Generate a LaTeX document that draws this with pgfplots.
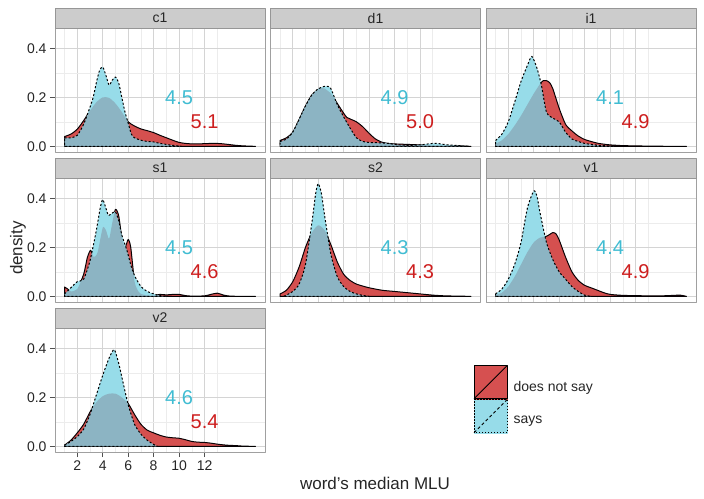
\documentclass[border=0pt]{standalone}
\usepackage{fontspec}
\setmainfont{Liberation Sans}
\usepackage{pgfplots}
\usepackage{pgfplotstable}
\pgfplotsset{compat=1.18}
\definecolor{redpre}{RGB}{243,95,89}
\definecolor{redshow}{RGB}{214,80,80}
\definecolor{tintc}{RGB}{96,20,43}
\definecolor{cyanlight}{RGB}{151,220,233}
\definecolor{cyantext}{RGB}{64,188,210}
\definecolor{redtext}{RGB}{205,30,30}
\definecolor{stripfill}{RGB}{204,204,204}
\definecolor{stripborder}{RGB}{150,150,150}
\definecolor{panelborder}{RGB}{160,160,160}
\definecolor{gridmajor}{RGB}{212,212,212}
\definecolor{gridminor}{RGB}{236,236,236}
\definecolor{tickc}{RGB}{80,80,80}
\tikzset{
  cyantxt/.style={text=cyantext, font=\fontsize{20}{20}\selectfont},
  redtxt/.style={text=redtext, font=\fontsize{20}{20}\selectfont},
}
% ---- data: does not say (R) and says (C), per panel
\pgfplotstableread[row sep=\\]{x y\\ 1 0.04\\ 1.5 0.05\\ 2 0.07\\ 2.5 0.105\\ 3 0.145\\ 3.5 0.18\\ 4 0.2\\ 4.5 0.198\\ 5 0.175\\ 5.5 0.14\\ 6 0.1\\ 6.5 0.083\\ 7 0.071\\ 7.5 0.064\\ 8 0.056\\ 8.5 0.045\\ 9 0.035\\ 9.5 0.025\\ 10 0.016\\ 10.5 0.012\\ 11 0.01\\ 11.5 0.01\\ 12 0.011\\ 12.5 0.012\\ 13 0.012\\ 13.5 0.01\\ 14 0.007\\ 14.5 0.004\\ 15 0.002\\ 15.5 0.001\\ 16 0\\}\cOneR
\pgfplotstableread[row sep=\\]{x y\\ 1 0.035\\ 1.5 0.035\\ 2 0.045\\ 2.5 0.09\\ 3 0.16\\ 3.25 0.2\\ 3.5 0.26\\ 3.75 0.31\\ 4 0.324\\ 4.25 0.29\\ 4.5 0.25\\ 4.75 0.27\\ 5 0.283\\ 5.25 0.26\\ 5.5 0.2\\ 5.75 0.14\\ 6 0.095\\ 6.25 0.05\\ 6.5 0.035\\ 7 0.025\\ 7.5 0.02\\ 8 0.018\\ 8.5 0.012\\ 9 0.008\\ 9.5 0.004\\ 10 0.001\\ 10.2 0\\}\cOneC
\pgfplotstableread[row sep=\\]{x y\\ 1 0.024\\ 1.5 0.035\\ 2 0.058\\ 2.5 0.11\\ 3 0.165\\ 3.5 0.21\\ 4 0.232\\ 4.25 0.238\\ 4.5 0.236\\ 5 0.215\\ 5.5 0.175\\ 6 0.135\\ 6.25 0.118\\ 6.5 0.112\\ 7 0.1\\ 7.5 0.08\\ 8 0.053\\ 8.5 0.03\\ 9 0.017\\ 9.5 0.012\\ 10 0.01\\ 11 0.008\\ 12 0.006\\ 13 0.004\\ 14 0.003\\ 15 0.002\\ 16 0\\}\dOneR
\pgfplotstableread[row sep=\\]{x y\\ 1 0.02\\ 1.5 0.03\\ 2 0.058\\ 2.5 0.11\\ 3 0.165\\ 3.5 0.21\\ 4 0.235\\ 4.5 0.245\\ 4.75 0.245\\ 5 0.235\\ 5.5 0.17\\ 6 0.12\\ 6.5 0.075\\ 7 0.035\\ 7.5 0.02\\ 8 0.016\\ 8.5 0.015\\ 9 0.014\\ 9.5 0.012\\ 10 0.008\\ 11 0.004\\ 12 0.006\\ 13 0.012\\ 13.5 0.011\\ 14 0.007\\ 15 0.003\\ 15.8 0\\}\dOneC
\pgfplotstableread[row sep=\\]{x y\\ 1 0.01\\ 1.5 0.025\\ 2 0.05\\ 2.5 0.085\\ 3 0.125\\ 3.5 0.17\\ 4 0.215\\ 4.5 0.255\\ 4.75 0.268\\ 5 0.268\\ 5.25 0.26\\ 5.5 0.235\\ 6 0.155\\ 6.5 0.09\\ 7 0.063\\ 7.5 0.042\\ 8 0.028\\ 8.5 0.02\\ 9 0.013\\ 9.5 0.009\\ 10 0.006\\ 11 0.003\\ 12 0.002\\ 13 0.001\\ 14 0.0005\\ 16 0\\}\iOneR
\pgfplotstableread[row sep=\\]{x y\\ 1 0.024\\ 1.5 0.05\\ 2 0.1\\ 2.5 0.18\\ 3 0.265\\ 3.5 0.33\\ 3.85 0.367\\ 4.25 0.32\\ 4.6 0.25\\ 5 0.14\\ 5.5 0.115\\ 6 0.1\\ 6.5 0.058\\ 7 0.03\\ 7.5 0.02\\ 8 0.012\\ 9 0.005\\ 10 0.001\\ 10.3 0\\}\iOneC
\pgfplotstableread[row sep=\\]{x y\\ 1 0.038\\ 1.25 0.03\\ 1.5 0.02\\ 2 0.03\\ 2.5 0.09\\ 2.8 0.16\\ 3.05 0.188\\ 3.3 0.16\\ 3.6 0.18\\ 4 0.28\\ 4.25 0.27\\ 4.5 0.235\\ 4.75 0.3\\ 5 0.355\\ 5.25 0.33\\ 5.5 0.24\\ 5.75 0.2\\ 6 0.232\\ 6.2 0.2\\ 6.5 0.06\\ 6.8 0.02\\ 7 0.01\\ 7.5 0.004\\ 8 0.003\\ 8.5 0.008\\ 9 0.006\\ 9.5 0.008\\ 10 0.008\\ 10.5 0.003\\ 11 0.001\\ 12 0.002\\ 12.5 0.008\\ 13 0.013\\ 13.5 0.005\\ 14 0.001\\ 15 0\\ 16 0\\}\sOneR
\pgfplotstableread[row sep=\\]{x y\\ 1 0.01\\ 1.5 0.035\\ 2 0.06\\ 2.5 0.07\\ 3 0.145\\ 3.5 0.27\\ 3.8 0.36\\ 4 0.395\\ 4.25 0.36\\ 4.45 0.33\\ 4.75 0.34\\ 5 0.345\\ 5.25 0.31\\ 5.5 0.25\\ 5.9 0.188\\ 6.25 0.12\\ 6.55 0.079\\ 7 0.04\\ 7.2 0.031\\ 7.5 0.02\\ 8 0.01\\ 8.5 0.003\\ 9 0\\}\sOneC
\pgfplotstableread[row sep=\\]{x y\\ 1 0.01\\ 1.5 0.025\\ 2 0.06\\ 2.5 0.12\\ 3 0.2\\ 3.5 0.26\\ 4 0.29\\ 4.5 0.27\\ 5 0.21\\ 5.5 0.14\\ 6 0.09\\ 6.5 0.065\\ 7 0.05\\ 7.5 0.042\\ 8 0.035\\ 9 0.025\\ 10 0.02\\ 11 0.015\\ 12 0.01\\ 13 0.005\\ 14 0.002\\ 15 0.001\\ 16 0\\}\sTwoR
\pgfplotstableread[row sep=\\]{x y\\ 1.3 0\\ 2 0.02\\ 2.5 0.05\\ 3 0.13\\ 3.5 0.3\\ 3.8 0.42\\ 4 0.46\\ 4.25 0.42\\ 4.5 0.33\\ 5 0.17\\ 5.5 0.08\\ 6 0.04\\ 6.5 0.02\\ 7 0.01\\ 7.5 0.004\\ 8 0\\}\sTwoC
\pgfplotstableread[row sep=\\]{x y\\ 1 0.005\\ 1.5 0.015\\ 2 0.04\\ 2.5 0.08\\ 3 0.13\\ 3.5 0.18\\ 4 0.22\\ 4.5 0.24\\ 5 0.245\\ 5.5 0.26\\ 5.75 0.255\\ 6 0.23\\ 6.5 0.16\\ 7 0.1\\ 7.5 0.065\\ 8 0.045\\ 8.5 0.035\\ 9 0.025\\ 9.5 0.015\\ 10 0.008\\ 11 0.004\\ 12 0.003\\ 13 0.002\\ 14 0.002\\ 15 0.004\\ 15.5 0.005\\ 16 0\\}\vOneR
\pgfplotstableread[row sep=\\]{x y\\ 1 0.01\\ 1.5 0.03\\ 2 0.07\\ 2.5 0.13\\ 3 0.22\\ 3.5 0.36\\ 4 0.43\\ 4.25 0.41\\ 4.5 0.34\\ 5 0.22\\ 5.5 0.15\\ 6 0.1\\ 6.5 0.07\\ 7 0.04\\ 7.5 0.02\\ 8 0.005\\ 8.5 0\\}\vOneC
\pgfplotstableread[row sep=\\]{x y\\ 1 0.005\\ 1.5 0.025\\ 2 0.055\\ 2.5 0.09\\ 3 0.14\\ 3.5 0.18\\ 4 0.205\\ 4.5 0.215\\ 5 0.215\\ 5.5 0.2\\ 6 0.175\\ 6.5 0.13\\ 7 0.09\\ 7.5 0.066\\ 8 0.055\\ 8.5 0.045\\ 9 0.038\\ 9.5 0.035\\ 10 0.033\\ 10.5 0.027\\ 11 0.02\\ 11.5 0.017\\ 12 0.016\\ 12.5 0.013\\ 13 0.009\\ 13.5 0.006\\ 14 0.004\\ 14.5 0.003\\ 15 0.001\\ 16 0\\}\vTwoR
\pgfplotstableread[row sep=\\]{x y\\ 1 0.005\\ 1.5 0.02\\ 2 0.04\\ 2.5 0.07\\ 3 0.13\\ 3.5 0.21\\ 4 0.29\\ 4.5 0.36\\ 4.9 0.395\\ 5.25 0.34\\ 5.6 0.26\\ 6 0.17\\ 6.5 0.09\\ 7 0.05\\ 7.5 0.025\\ 8 0.008\\ 8.3 0\\}\vTwoC
\begin{document}
\begin{tikzpicture}
\useasboundingbox (0pt,0pt) rectangle (704pt,498pt);
\pgfplotsset{
  panel/.style={
    width=210pt, height=124pt, scale only axis,
    xmin=0.25, xmax=16.75, ymin=-0.023, ymax=0.483,
    axis line style={draw=panelborder, line width=0.7pt},
    xtick={2,4,...,12}, minor xtick={1,3,...,13},
    ytick={0,0.2,0.4}, minor ytick={0.1,0.3},
    grid=both,
    major grid style={draw=gridmajor, line width=0.6pt},
    minor grid style={draw=gridminor, line width=0.6pt},
    xticklabels={}, yticklabels={},
    tick pos=left, tick align=outside,
    major tick length=5pt, minor tick length=0pt,
    xtick style={draw=none}, ytick style={draw=none},
    ticklabel style={font=\fontsize{14}{14}\selectfont, text=black!85},
    line join=round,
  },
  strip/.style={
    after end axis/.append code={
      \draw[draw=stripborder, fill=stripfill, line width=0.7pt] (rel axis cs:0,1) rectangle (rel axis cs:1,1.1613);
      \node[font=\fontsize{14}{14}\selectfont, text=black!85] at (rel axis cs:0.5,1.0806) {#1};
    }
  },
  leftcol/.style={yticklabels={0.0,0.2,0.4}, ytick style={draw=tickc, line width=0.7pt}},
  bottomrow/.style={xticklabels={2,4,6,8,10,12}, xtick style={draw=tickc, line width=0.7pt}},
  redfillplot/.style={fill=redpre, draw=black, line width=1pt, smooth, tension=0.4, forget plot},
  cyanfillplot/.style={fill=cyanlight, draw=none, smooth, tension=0.4, forget plot},
  tintplot/.style={fill=tintc, fill opacity=0.2, draw=none, smooth, tension=0.4, forget plot},
  cyanlineplot/.style={draw=black, line width=1pt, dash pattern=on 2pt off 2pt, smooth, tension=0.4, forget plot},
}
\newcommand{\densities}[2]{%
  \addplot[redfillplot] table {#1} \closedcycle;
  \addplot[cyanfillplot] table {#2} \closedcycle;
  \addplot[tintplot] table {#1} \closedcycle;
  \addplot[cyanlineplot] table {#2} \closedcycle;
}
% ---------- c1
\begin{axis}[panel, strip=c1, leftcol, at={(55pt,346pt)}]
\densities{\cOneR}{\cOneC}
\node[cyantxt] at (axis cs:10,0.2) {4.5};
\node[redtxt] at (axis cs:12,0.1) {5.1};
\end{axis}
% ---------- d1
\begin{axis}[panel, strip=d1, at={(270.5pt,346pt)}]
\densities{\dOneR}{\dOneC}
\node[cyantxt] at (axis cs:10,0.2) {4.9};
\node[redtxt] at (axis cs:12,0.1) {5.0};
\end{axis}
% ---------- i1
\begin{axis}[panel, strip=i1, at={(486pt,346pt)}]
\densities{\iOneR}{\iOneC}
\node[cyantxt] at (axis cs:10,0.2) {4.1};
\node[redtxt] at (axis cs:12,0.1) {4.9};
\end{axis}
% ---------- s1
\begin{axis}[panel, strip=s1, leftcol, at={(55pt,196pt)}]
\densities{\sOneR}{\sOneC}
\node[cyantxt] at (axis cs:10,0.2) {4.5};
\node[redtxt] at (axis cs:12,0.1) {4.6};
\end{axis}
% ---------- s2
\begin{axis}[panel, strip=s2, at={(270.5pt,196pt)}]
\densities{\sTwoR}{\sTwoC}
\node[cyantxt] at (axis cs:10,0.2) {4.3};
\node[redtxt] at (axis cs:12,0.1) {4.3};
\end{axis}
% ---------- v1
\begin{axis}[panel, strip=v1, at={(486pt,196pt)}]
\densities{\vOneR}{\vOneC}
\node[cyantxt] at (axis cs:10,0.2) {4.4};
\node[redtxt] at (axis cs:12,0.1) {4.9};
\end{axis}
% ---------- v2
\begin{axis}[panel, strip=v2, leftcol, bottomrow, at={(55pt,46pt)},
  legend cell align=left,
  legend style={at={(1.992,0.7016)}, anchor=north west, draw=none, fill=none,
    inner sep=0pt, row sep=0pt, column sep=4pt,
    font=\fontsize{14}{14}\selectfont, text=black!85}]
\densities{\vTwoR}{\vTwoC}
\node[cyantxt] at (axis cs:10,0.2) {4.6};
\node[redtxt] at (axis cs:12,0.1) {5.4};
\addlegendimage{legend image code/.code={
  \fill[redshow] (0pt,-12pt) rectangle (33pt,21pt);
  \draw[black, line width=1pt] (0pt,-12pt) rectangle (33pt,21pt);
  \draw[black, line width=1pt] (0pt,-12pt) -- (33pt,21pt);}}
\addlegendentry{does not say}
\addlegendimage{legend image code/.code={
  \fill[cyanlight] (0pt,-12pt) rectangle (33pt,21pt);
  \draw[black, line width=1pt, dash pattern=on 1.5pt off 1.5pt] (0pt,-12pt) rectangle (33pt,21pt);
  \draw[black, line width=1pt, dash pattern=on 3pt off 2.5pt] (0pt,-12pt) -- (33pt,21pt);}}
\addlegendentry{says}
\end{axis}
\node[font=\fontsize{17}{17}\selectfont, text=black!85] at (375pt,15pt) {word's median MLU};
\node[font=\fontsize{17}{17}\selectfont, text=black!85, rotate=90] at (18pt,250pt) {density};
\end{tikzpicture}
\end{document}
